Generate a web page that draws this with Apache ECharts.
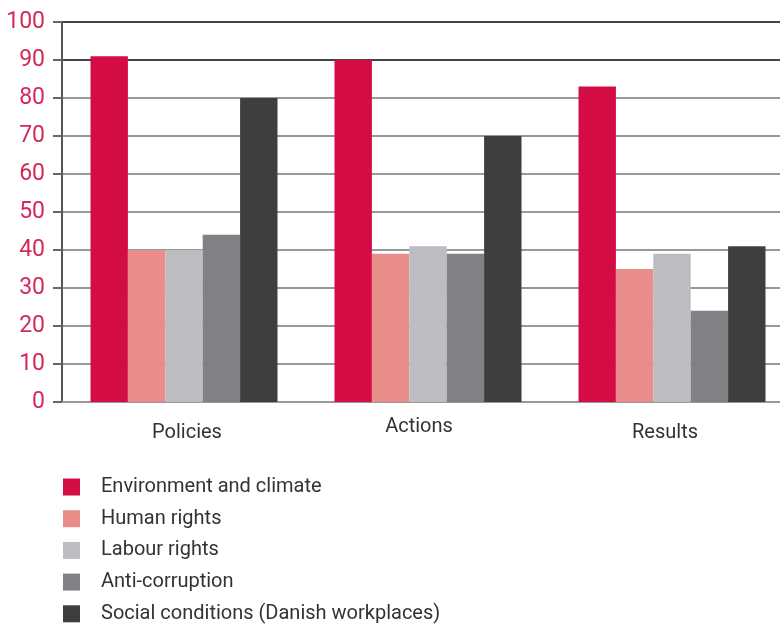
<!DOCTYPE html>
<html>
<head>
<meta charset="utf-8">
<script src="https://cdn.jsdelivr.net/npm/echarts@6/dist/echarts.min.js"></script>
<style>
  html, body { margin: 0; padding: 0; background: #fff; }
  #chart { width: 780px; height: 625px; }
</style>
</head>
<body>
<div id="chart"></div>
<script>
const categories = ['Policies', 'Actions', 'Results']
const seriesNames = [
  'Environment and climate',
  'Human rights',
  'Labour rights',
  'Anti-corruption',
  'Social conditions (Danish workplaces)'
]
const environment = [91, 90, 83]
const humanRights = [40, 39, 35]
const labourRights = [40, 41, 39]
const antiCorruption = [44, 39, 24]
const socialConditions = [80, 70, 41]
const colors = ['#d30d44', '#e88d8a', '#bcbdc1', '#808185', '#3e3e3e']

const values = [environment, humanRights, labourRights, antiCorruption, socialConditions]
const fontFamily = 'Roboto, "Open Sans", sans-serif'

const chart = echarts.init(document.getElementById('chart'))

// gridlines 0..100, the top two are darker
const gridColors = ['#999', '#999', '#999', '#999', '#999', '#999', '#999', '#999', '#999', '#444', '#444']

// small label nudges so they sit like in the original
const labelPadding = {
  Policies: [6, 0, 0, 6],
  Actions: [0, 18, 0, 0],
  Results: [6, 14, 0, 0]
}

const option = {
  animation: false,
  color: colors,
  grid: { left: 62, top: 22, width: 732, height: 380, outerBoundsMode: 'none' },
  legend: {
    orient: 'vertical',
    left: 58,
    top: 472,
    height: 160,
    itemWidth: 17,
    itemHeight: 17,
    itemGap: 11.7,
    icon: 'rect',
    textStyle: { fontFamily, fontSize: 20, color: '#333', padding: [0, 0, 0, 16] },
    data: seriesNames
  },
  xAxis: {
    type: 'category',
    data: categories.map(c => ({
      value: c,
      textStyle: { padding: labelPadding[c] }
    })),
    axisLine: { show: true, lineStyle: { color: '#999', width: 2 } },
    axisTick: { show: false },
    axisLabel: { fontFamily, fontSize: 20, color: '#333', margin: 15 }
  },
  yAxis: {
    type: 'value',
    min: 0,
    max: 100,
    interval: 10,
    axisLine: { show: true, lineStyle: { color: '#555', width: 2 } },
    axisTick: { show: true, length: 9, lineStyle: { color: '#666', width: 2 } },
    axisLabel: { fontFamily, fontSize: 23, color: '#d42a58', margin: 17 },
    splitLine: { show: true, lineStyle: { color: gridColors, width: 2 } }
  },
  series: seriesNames.map((name, i) => ({
    name,
    type: 'bar',
    data: values[i],
    barWidth: 37.4,
    barGap: '0%'
  }))
}

chart.setOption(option)
</script>
</body>
</html>
